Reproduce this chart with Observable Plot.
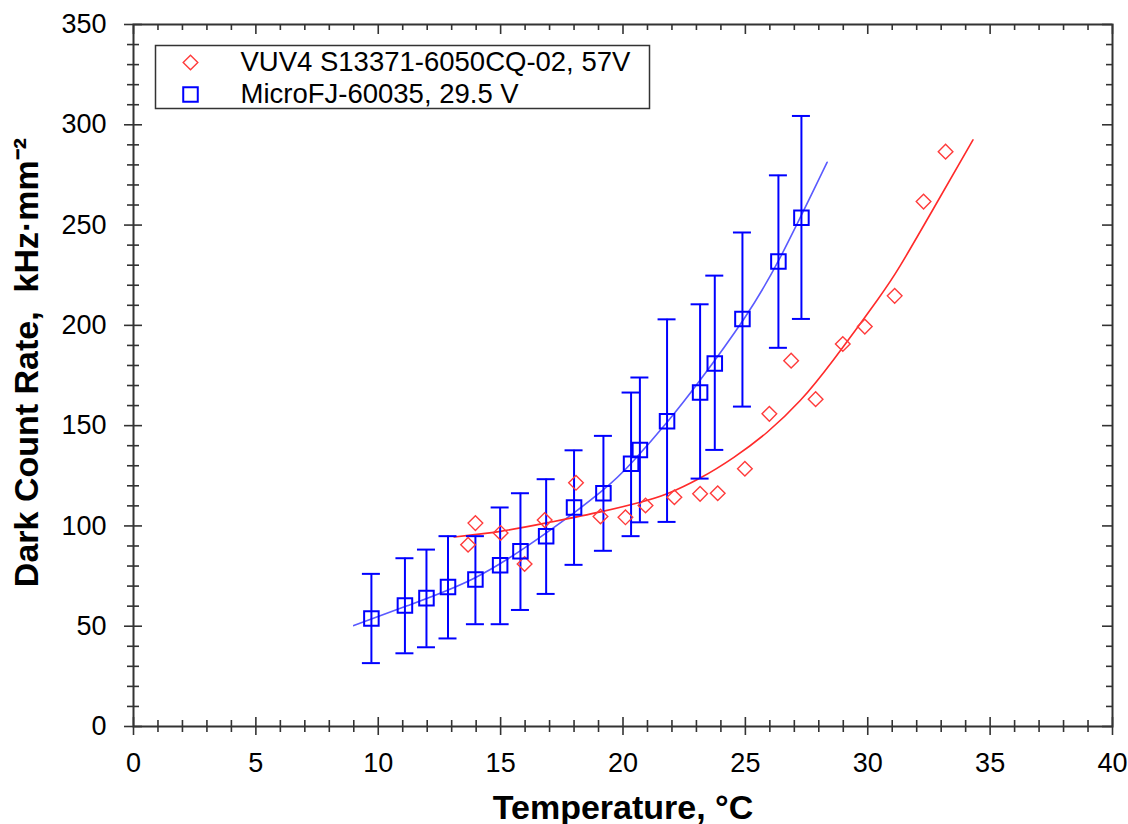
<!DOCTYPE html>
<html>
<head>
<meta charset="utf-8">
<script src="https://cdn.jsdelivr.net/npm/d3@7"></script>
<script src="https://cdn.jsdelivr.net/npm/@observablehq/plot@0.6"></script>
<style>
  html, body { margin: 0; padding: 0; background: #fff; }
  #chart svg { display: block; }
</style>
</head>
<body>
<div id="chart"></div>
<script>
// ---- data ----
const seriesLabels = ["VUV4 S13371-6050CQ-02, 57V", "MicroFJ-60035, 29.5 V"];

// MicroFJ-60035 (blue squares with error bars)
const blueT  = [9.72, 11.09, 11.97, 12.85, 13.97, 14.98, 15.81, 16.86, 18.0, 19.2, 20.33, 20.69, 21.8, 23.15, 23.75, 24.88, 26.35, 27.29];
const blueY  = [53.8, 60.3, 64.0, 69.6, 73.3, 80.4, 87.4, 94.9, 109.2, 116.3, 131.0, 137.9, 152.2, 166.5, 181.0, 203.2, 231.8, 253.6];
const blueHi = [76.1, 83.9, 88.2, 94.9, 94.9, 109.2, 116.3, 123.3, 137.7, 144.9, 166.5, 174.0, 203.0, 210.5, 224.8, 246.3, 274.8, 304.4];
const blueLo = [31.6, 36.5, 39.5, 43.9, 51.0, 51.0, 58.1, 66.1, 80.6, 87.6, 94.9, 101.8, 102.0, 123.6, 137.9, 159.5, 188.8, 203.2];

// VUV4 (red diamonds)
const redT = [13.67, 13.97, 15.0, 15.98, 16.8, 18.08, 19.08, 20.1, 20.92, 22.1, 23.15, 23.87, 24.98, 25.98, 26.87, 27.87, 28.98, 29.88, 31.1, 32.28, 33.18];
const redY = [90.6, 101.4, 96.5, 81.0, 102.9, 121.5, 104.7, 104.3, 110.2, 114.3, 116.0, 116.3, 128.5, 155.9, 182.4, 163.2, 190.7, 199.4, 214.7, 261.7, 286.6];

// fit curves
const blueFitT = [9.0, 11.18, 13.9, 16.62, 19.08, 20.44, 21.8, 23.17, 24.94, 26.43, 28.34];
const blueFitY = [50.3, 60.2, 73.8, 94.4, 116.8, 132.6, 151.7, 173.0, 203.2, 234.0, 281.3];
const redFitT  = [13.1, 15.0, 17.0, 19.08, 20.71, 21.8, 23.17, 24.53, 25.89, 27.24, 28.61, 30.38, 31.34, 32.7, 34.3];
const redFitY  = [94.5, 97.3, 101.8, 107.0, 111.8, 116.0, 124.0, 134.2, 146.7, 162.5, 183.0, 212.4, 230.0, 258.5, 292.5];

// axis ticks
const xMajor = [0, 5, 10, 15, 20, 25, 30, 35, 40];
const yMajor = [0, 50, 100, 150, 200, 250, 300, 350];
const xMinor = d3.range(0, 41, 1).filter(v => v % 5 !== 0);
const yMinor = d3.range(0, 351, 10).filter(v => v % 50 !== 0);

const xTitle = "Temperature, °C";
const yTitle = "Dark Count Rate,  kHz·mm⁻²";

// ---- build tables ----
const blue = blueT.map((t, i) => ({t, y: blueY[i], lo: blueLo[i], hi: blueHi[i]}));
const red = redT.map((t, i) => ({t, y: redY[i]}));
const blueFit = blueFitT.map((t, i) => ({t, y: blueFitY[i]}));
const redFit = redFitT.map((t, i) => ({t, y: redFitY[i]}));

const W = 1128, H = 824;
const mL = 133, mR = 16, mT = 24, mB = 98;
const PW = W - mL - mR, PH = H - mT - mB;

const BLUE = "#0000ff", BLUE_LINE = "#5a5aff", RED = "#ff3b3b", RED_LINE = "#ff2a2a", AX = "#333";
const FONT = "'Liberation Sans', Arial, Helvetica, sans-serif";

const chart = Plot.plot({
  width: W, height: H,
  marginLeft: mL, marginRight: mR, marginTop: mT, marginBottom: mB,
  style: {fontFamily: FONT, background: "white", color: "black"},
  x: {type: "linear", domain: [0, 40], axis: null},
  y: {type: "linear", domain: [0, 350], axis: null},
  marks: [
    // fit curves
    Plot.line(blueFit, {x: "t", y: "y", stroke: BLUE_LINE, strokeWidth: 1.6, curve: "natural"}),
    Plot.line(redFit, {x: "t", y: "y", stroke: RED_LINE, strokeWidth: 1.6, curve: "natural"}),
    // error bars
    Plot.ruleX(blue, {x: "t", y1: "lo", y2: "hi", stroke: BLUE, strokeWidth: 2}),
    Plot.ruleY(blue, {y: "hi", x1: "t", x2: "t", insetLeft: -9, insetRight: -9, stroke: BLUE, strokeWidth: 2}),
    Plot.ruleY(blue, {y: "lo", x1: "t", x2: "t", insetLeft: -9, insetRight: -9, stroke: BLUE, strokeWidth: 2}),
    // points
    Plot.dot(red, {x: "t", y: "y", symbol: "diamond2", r: 6.6, stroke: RED, strokeWidth: 1.4, fill: "none"}),
    Plot.dot(blue, {x: "t", y: "y", symbol: "square", r: 8.2, stroke: BLUE, strokeWidth: 2, fill: "none"}),
    // frame
    Plot.frame({stroke: AX, strokeWidth: 2}),
    // bottom ticks (crossing)
    Plot.ruleX(xMajor, {x: d => d, insetTop: PH - 9, insetBottom: -9, stroke: AX, strokeWidth: 1.6}),
    Plot.ruleX(xMinor, {x: d => d, insetTop: PH - 6, insetBottom: -6, stroke: AX, strokeWidth: 1.6}),
    // top ticks (inward)
    Plot.ruleX(xMajor, {x: d => d, insetTop: 0, insetBottom: PH - 10, stroke: AX, strokeWidth: 1.6}),
    Plot.ruleX(xMinor, {x: d => d, insetTop: 0, insetBottom: PH - 6, stroke: AX, strokeWidth: 1.6}),
    // left ticks (crossing)
    Plot.ruleY(yMajor, {y: d => d, insetLeft: -9, insetRight: PW - 9, stroke: AX, strokeWidth: 1.6}),
    Plot.ruleY(yMinor, {y: d => d, insetLeft: -6, insetRight: PW - 6, stroke: AX, strokeWidth: 1.6}),
    // right ticks (inward)
    Plot.ruleY(yMajor, {y: d => d, insetLeft: PW - 10, insetRight: 0, stroke: AX, strokeWidth: 1.6}),
    Plot.ruleY(yMinor, {y: d => d, insetLeft: PW - 6, insetRight: 0, stroke: AX, strokeWidth: 1.6}),
    // tick labels
    Plot.axisX(xMajor, {anchor: "bottom", tickSize: 0, tickPadding: 26, fontSize: 27, label: null, stroke: null}),
    Plot.axisY(yMajor, {anchor: "left", tickSize: 0, tickPadding: 27, fontSize: 27, label: null, stroke: null}),
    // axis titles
    Plot.text([xTitle], {frameAnchor: "bottom", dy: 92, textAnchor: "middle", lineAnchor: "bottom", fontSize: 34, fontWeight: "bold", fill: "black"}),
    Plot.text([yTitle], {frameAnchor: "left", dx: -96, dy: -13, rotate: -90, textAnchor: "middle", lineAnchor: "bottom", fontSize: 34, fontWeight: "bold", fill: "black"}),
    // legend
    Plot.frame({insetLeft: 22, insetTop: 21, insetRight: 463, insetBottom: 618, stroke: AX, strokeWidth: 1.5, fill: "white"}),
    Plot.dot([0], {frameAnchor: "top-left", dx: 57, dy: 38, symbol: "diamond2", r: 6.6, stroke: RED, strokeWidth: 1.4, fill: "none"}),
    Plot.dot([0], {frameAnchor: "top-left", dx: 57, dy: 70, symbol: "square", r: 8.2, stroke: BLUE, strokeWidth: 2, fill: "none"}),
    Plot.text([seriesLabels[0]], {frameAnchor: "top-left", dx: 107, dy: 38, textAnchor: "start", lineAnchor: "middle", fontSize: 27.5, fill: "black"}),
    Plot.text([seriesLabels[1]], {frameAnchor: "top-left", dx: 107, dy: 70, textAnchor: "start", lineAnchor: "middle", fontSize: 27.5, fill: "black"})
  ]
});
document.getElementById("chart").appendChild(chart);
</script>
</body>
</html>
